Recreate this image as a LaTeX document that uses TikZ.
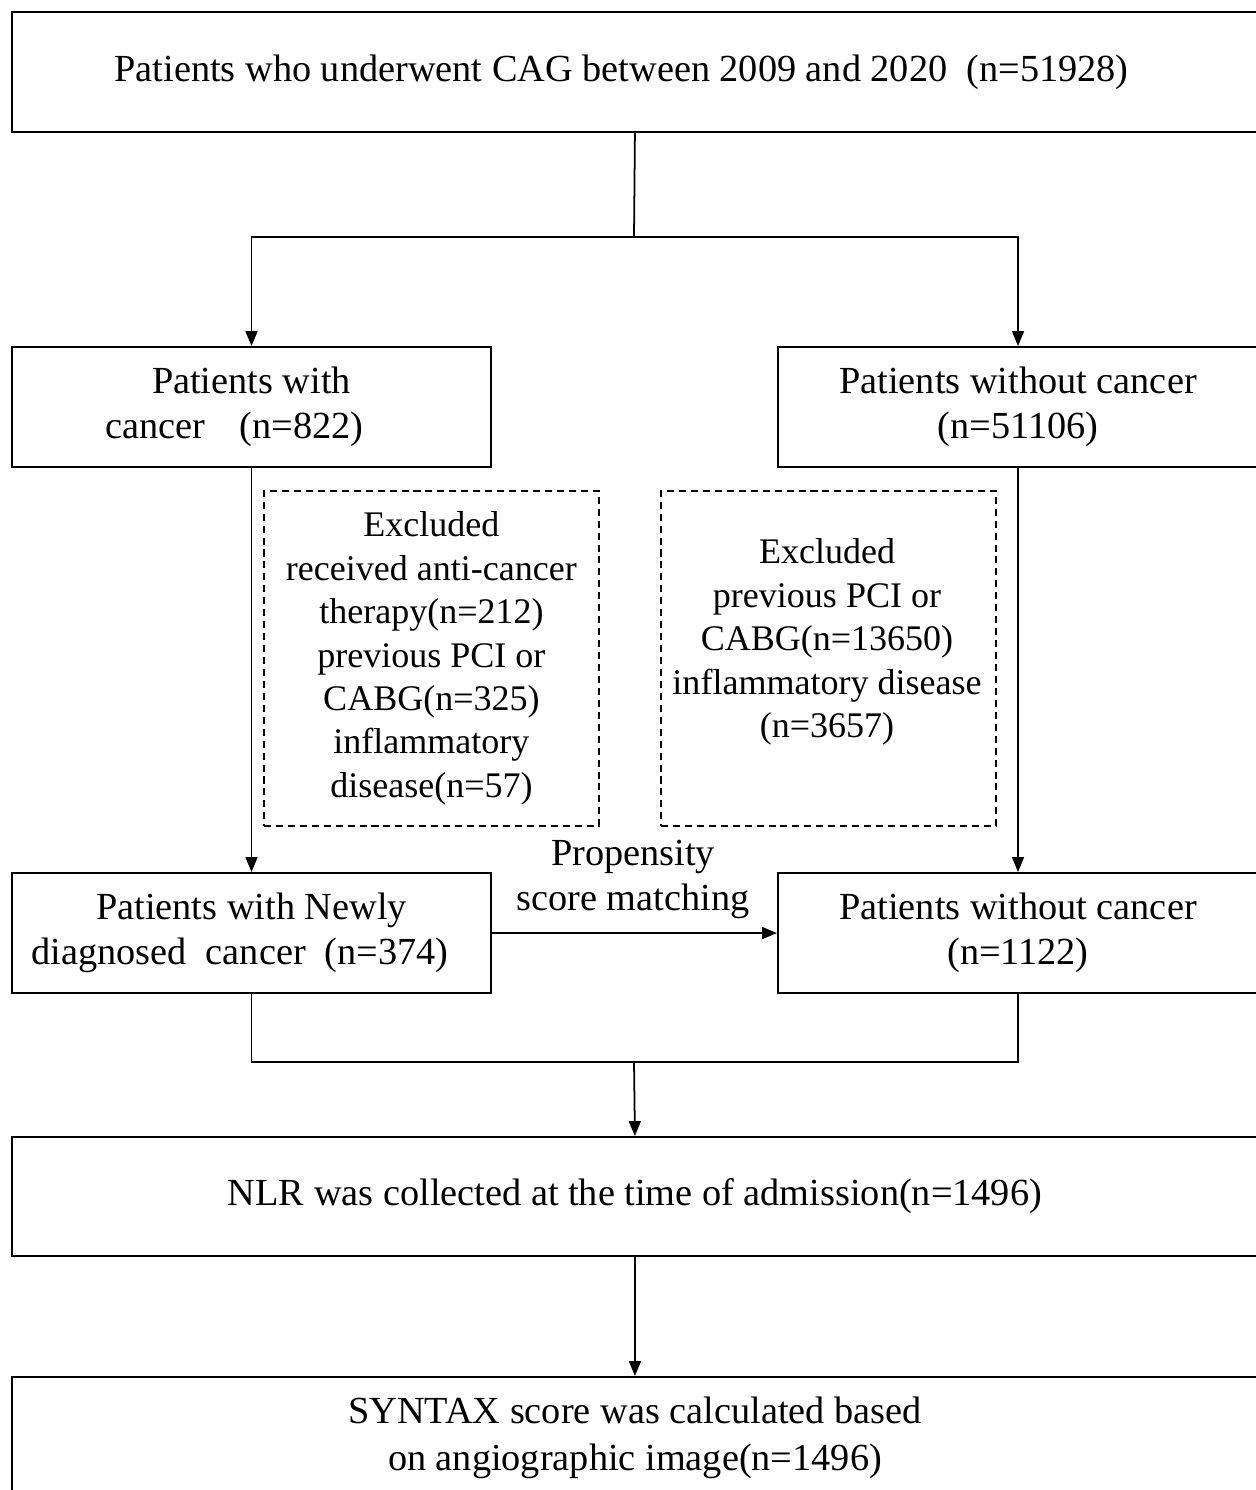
\documentclass[tikz,border=0pt]{standalone}
\usepackage{fontspec}
\setmainfont{Liberation Serif}
\usetikzlibrary{arrows.meta}
\newcommand\myfs{\fontsize{21.8}{25.6}\selectfont}
\newcommand\mydfs{\fontsize{20.5}{24.7}\selectfont}
\begin{document}
\begin{tikzpicture}[x=0.02cm,y=-0.02cm,
  box/.style={draw, line width=1.2pt, rectangle, anchor=north west, inner sep=0pt, align=center, font=\myfs},
  dbox/.style={draw, line width=1.1pt, dash pattern=on 4pt off 2.8pt, rectangle, anchor=north west, inner sep=0pt, align=center, font=\mydfs},
  txt/.style={inner sep=0pt, align=center, font=\mydfs},
  conn/.style={line width=1pt},
  arr/.style={conn, -{Triangle[length=8.5pt,width=6.8pt]}}]
\useasboundingbox (0,0) rectangle (1255,1490);
\fill[white] (0,0) rectangle (1255,1490);
% boxes
\node[box, minimum width=24.92cm, minimum height=2.4cm] (top) at (11,11)
  {Patients who underwent CAG between 2009 and 2020\ \ (n=51928)\hspace*{0.7em}};
\node[box, minimum width=9.58cm, minimum height=2.4cm] (pc) at (11,346)
  {Patients with\\cancer\hspace{0.9em}(n=822)\hspace*{0.9em}};
\node[box, minimum width=9.6cm, minimum height=2.4cm] (pnc) at (777,346)
  {Patients without cancer\\(n=51106)};
\node[dbox, minimum width=6.7cm, minimum height=6.7cm] (ex1) at (263,490)
  {Excluded\\received anti-cancer\\therapy(n=212)\\previous PCI or\\CABG(n=325)\\inflammatory\\disease(n=57)};
\node[dbox, minimum width=6.7cm, minimum height=6.7cm] (ex2) at (660,490) {};
\node[txt] (ex2t) at (827,642)
  {Excluded\\previous PCI or\\CABG(n=13650)\\inflammatory disease\\(n=3657)};
\node[box, minimum width=9.58cm, minimum height=2.4cm] (pn) at (11,872)
  {Patients with Newly\\diagnosed\ \ cancer\ \ (n=374)\hspace*{0.6em}};
\node[box, minimum width=9.6cm, minimum height=2.4cm] (pnc2) at (777,872)
  {Patients without cancer\\(n=1122)};
\node[box, minimum width=24.92cm, minimum height=2.38cm] (nlr) at (11,1136)
  {NLR was collected at the time of admission(n=1496)};
\node[box, minimum width=24.92cm, minimum height=2.42cm] (syn) at (11,1376)
  {SYNTAX score was calculated based\\[1pt]on angiographic image(n=1496)};
\node[txt, font=\myfs] (psm) at (633,879) {Propensity\\score matching};
% connectors
\coordinate (j1) at (634,237);
\coordinate (j2) at (634,1062);
\draw[conn] (top.south) -- (j1);
\draw[arr] (j1) -| (pc.north);
\draw[arr] (j1) -| (pnc.north);
\draw[arr] (pc.south) -- (pn.north);
\draw[arr] (pnc.south) -- (pnc2.north);
\draw[arr] (pn.east) -- (pnc2.west);
\draw[conn] (pn.south) |- (j2) -| (pnc2.south);
\draw[arr] (j2) -- (nlr.north);
\draw[arr] (nlr.south) -- (syn.north);
\end{tikzpicture}
\end{document}
